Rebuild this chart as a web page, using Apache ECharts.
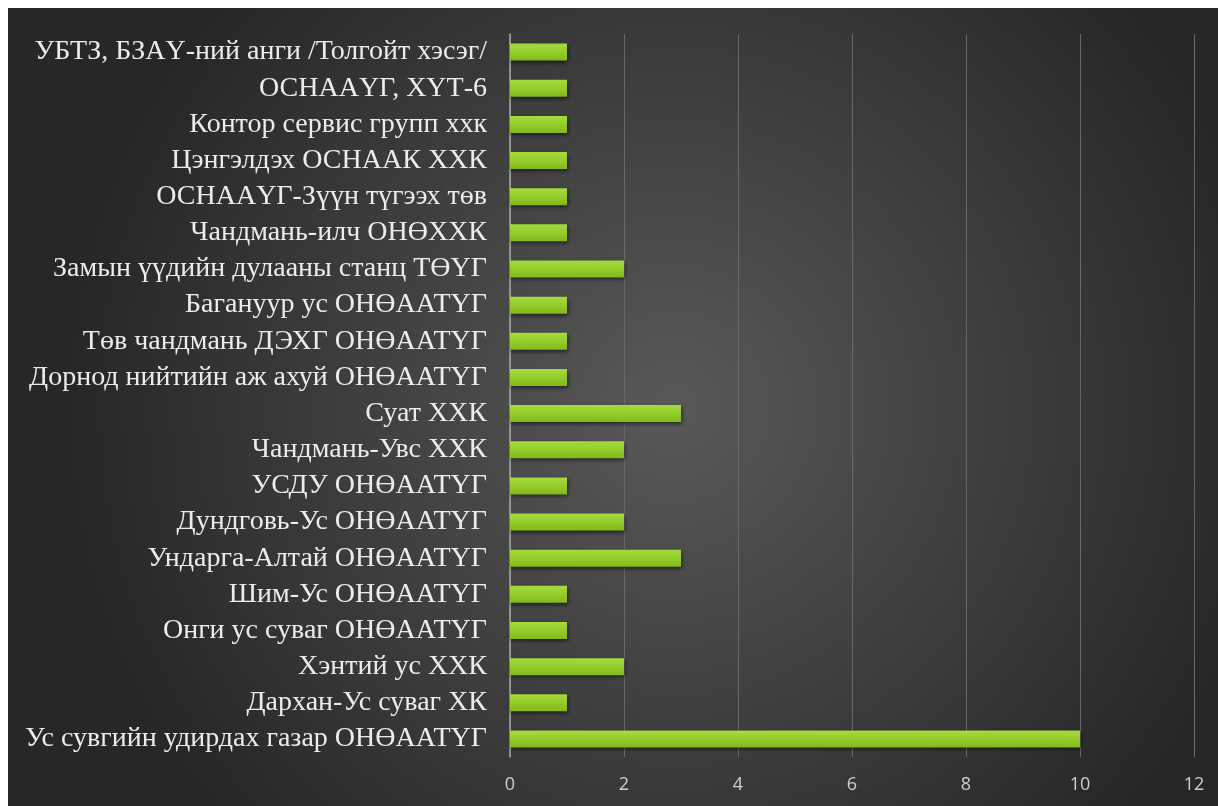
<!DOCTYPE html>
<html>
<head>
<meta charset="utf-8">
<script src="https://cdn.jsdelivr.net/npm/echarts@6/dist/echarts.min.js"></script>
<style>
html,body{margin:0;padding:0;background:#ffffff;}
#chart{position:absolute;left:8px;top:8px;width:1210px;height:798px;}
</style>
</head>
<body>
<div id="chart"></div>
<script>
// categories listed bottom to top (ECharts category axis order)
const categories = [
  "Ус сувгийн удирдах газар ОНӨААТҮГ",
  "Дархан-Ус суваг ХК",
  "Хэнтий ус ХХК",
  "Онги ус суваг ОНӨААТҮГ",
  "Шим-Ус ОНӨААТҮГ",
  "Ундарга-Алтай ОНӨААТҮГ",
  "Дундговь-Ус ОНӨААТҮГ",
  "УСДУ ОНӨААТҮГ",
  "Чандмань-Увс ХХК",
  "Суат ХХК",
  "Дорнод нийтийн аж ахуй ОНӨААТҮГ",
  "Төв чандмань ДЭХГ ОНӨААТҮГ",
  "Багануур ус ОНӨААТҮГ",
  "Замын үүдийн дулааны станц ТӨҮГ",
  "Чандмань-илч ОНӨХХК",
  "ОСНААҮГ-Зүүн түгээх төв",
  "Цэнгэлдэх ОСНААК ХХК",
  "Контор сервис групп ххк",
  "ОСНААҮГ, ХҮТ-6",
  "УБТЗ, БЗАҮ-ний анги /Толгойт хэсэг/"
];
const values = [10, 1, 2, 1, 1, 3, 2, 1, 2, 3, 1, 1, 1, 2, 1, 1, 1, 1, 1, 1];
const xTicks = [0, 2, 4, 6, 8, 10, 12];

const chart = echarts.init(document.getElementById('chart'));
chart.setOption({
  animation: false,
  backgroundColor: {
    type: 'radial', x: 0.55, y: 0.5, r: 0.75,
    colorStops: [
      {offset: 0, color: '#595959'},
      {offset: 1, color: '#272727'}
    ]
  },
  grid: {left: 502, right: 24, top: 26, bottom: 49, containLabel: false},
  xAxis: {
    type: 'value',
    min: xTicks[0], max: xTicks[xTicks.length - 1], interval: 2,
    axisLine: {show: false},
    axisTick: {show: false},
    splitLine: {show: true, lineStyle: {color: '#686868', width: 1}},
    axisLabel: {
      color: '#cfcfcf', fontSize: 18, fontFamily: 'Open Sans', margin: 19
    }
  },
  yAxis: {
    type: 'category',
    data: categories,
    axisLine: {show: true, lineStyle: {color: '#a8a8a8', width: 1.5}},
    axisTick: {show: false},
    axisLabel: {
      interval: 0,
      color: '#ececec', fontSize: 28, fontFamily: 'Liberation Serif', margin: 23
    }
  },
  series: [{
    type: 'bar',
    data: values,
    barWidth: 17,
    itemStyle: {
      color: {
        type: 'linear', x: 0, y: 0, x2: 0, y2: 1,
        colorStops: [
          {offset: 0, color: '#a6db3f'},
          {offset: 0.5, color: '#95cd2a'},
          {offset: 1, color: '#82b81c'}
        ]
      },
      shadowColor: 'rgba(0,0,0,0.55)',
      shadowBlur: 4,
      shadowOffsetY: 2,
      shadowOffsetX: 1
    }
  }]
});
</script>
</body>
</html>
